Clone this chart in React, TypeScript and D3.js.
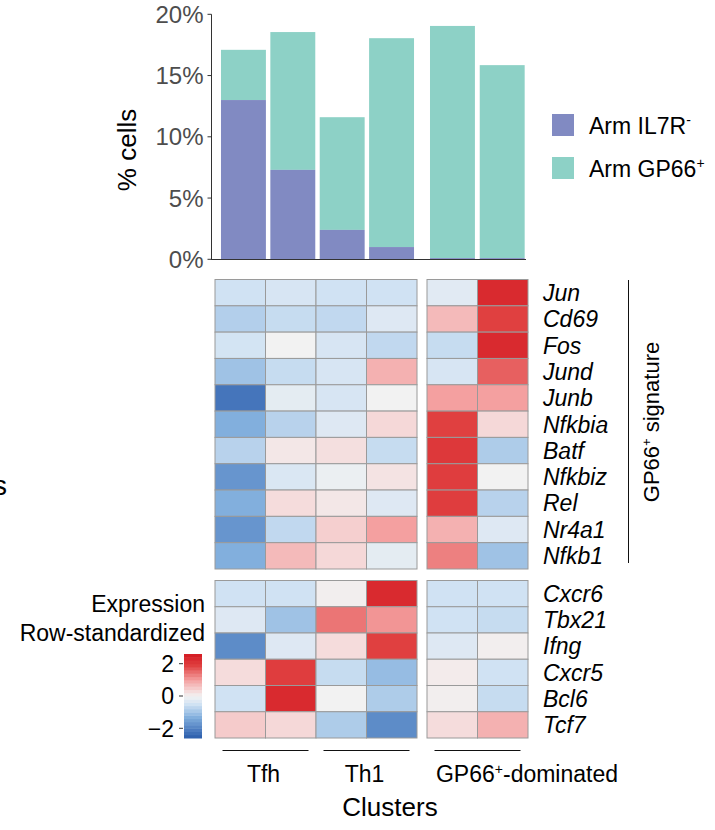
import React, { useEffect, useRef } from "react";
import * as d3 from "d3";

// clusters (columns), grouped
const clusters = ["c1", "c2", "c3", "c4", "c5", "c6"];
const groupA = ["c1", "c2", "c3", "c4"];
const groupB = ["c5", "c6"];
const clusterGroups = [
  { name: "Tfh", cols: ["c1", "c2"] },
  { name: "Th1", cols: ["c3", "c4"] },
  { name: "GP66+-dominated", cols: ["c5", "c6"] },
];

// % cells per cluster
const il7r = [13.0, 7.3, 2.4, 1.0, 0.1, 0.1];
const gp66 = [4.1, 11.25, 9.2, 17.05, 18.95, 15.75];
const yTicks = [0, 5, 10, 15, 20];

// heatmap genes
const sigGenes = ["Jun", "Cd69", "Fos", "Jund", "Junb", "Nfkbia", "Batf", "Nfkbiz", "Rel", "Nr4a1", "Nfkb1"];
const sigValues = [
  [-0.5, -0.4, -0.5, -0.5, -0.25, 2.3],
  [-0.8, -0.6, -0.65, -0.3, 0.7, 1.9],
  [-0.45, 0, -0.4, -0.65, -0.6, 2.3],
  [-1.0, -0.6, -0.4, 0.8, -0.4, 1.6],
  [-2.2, -0.2, -0.4, 0, 1.0, 1.0],
  [-1.3, -0.75, -0.3, 0.35, 1.9, 0.35],
  [-0.75, 0.15, 0.25, -0.6, 2.05, -0.85],
  [-1.7, -0.35, -0.1, 0.2, 1.95, 0],
  [-1.3, 0.3, 0.15, -0.3, 1.95, -0.75],
  [-1.7, -0.65, 0.45, 1.0, 0.8, -0.3],
  [-1.3, 0.7, 0.35, -0.2, 1.3, -1.0],
];
const markerGenes = ["Cxcr6", "Tbx21", "Ifng", "Cxcr5", "Bcl6", "Tcf7"];
const markerValues = [
  [-0.5, -0.5, 0.05, 2.3, -0.5, -0.5],
  [-0.3, -1.0, 1.4, 1.1, -0.5, -0.6],
  [-1.85, -0.3, 0.3, 1.9, -0.3, 0.05],
  [0.3, 1.95, -0.6, -1.1, 0.1, -0.5],
  [-0.5, 2.3, 0, -0.85, 0.05, -0.6],
  [0.5, 0.35, -0.85, -1.85, 0.3, 0.8],
];
const legendTicks = [-2, 0, 2];

// colour stops of the expression scale
const colorStops = [-2.6, -2.2, -1.3, -0.5, 0, 0.35, 1.0, 1.9, 2.6];
const colorRange = ["#2a5ca9", "#4575bb", "#82afdd", "#d0e2f3", "#f2f2f2", "#f5d8d8", "#f4a0a0", "#e04040", "#d31a22"];

const FONT = "'Liberation Sans', Arial, Helvetica, sans-serif";

export default function App() {
  const svgRef = useRef<SVGSVGElement>(null);

  useEffect(() => {
    const svg = d3.select(svgRef.current);
    svg.selectAll("*").remove();

    const color = d3.scaleLinear<string>().domain(colorStops).range(colorRange).clamp(true);

    // column positions for the heatmap
    const hxA = d3.scaleBand().domain(groupA).range([215, 417]);
    const hxB = d3.scaleBand().domain(groupB).range([427, 528]);
    const hx = (c: string) => (groupA.includes(c) ? hxA(c)! : hxB(c)!);
    const cw = hxA.bandwidth();

    // bar positions
    const bxA = d3.scaleBand().domain(groupA).range([219, 416]).paddingInner(0.09).paddingOuter(0.04);
    const bxB = d3.scaleBand().domain(groupB).range([428, 527]).paddingInner(0.09).paddingOuter(0.04);
    const bx = (c: string) => (groupA.includes(c) ? bxA(c)! : bxB(c)!);
    const bw = bxA.bandwidth();

    const y = d3.scaleLinear().domain([0, 20]).range([259.3, 14.3]);

    // ---- bars
    const stacked = clusters.map((c, i) => ({ c, a: il7r[i], b: gp66[i] }));
    const bars = svg.append("g");
    bars
      .selectAll(".gp")
      .data(stacked)
      .join("rect")
      .attr("x", (d) => bx(d.c))
      .attr("width", bw)
      .attr("y", (d) => y(d.a + d.b))
      .attr("height", (d) => y(d.a) - y(d.a + d.b))
      .attr("fill", "#8dd1c6");
    bars
      .selectAll(".il")
      .data(stacked)
      .join("rect")
      .attr("x", (d) => bx(d.c))
      .attr("width", bw)
      .attr("y", (d) => y(d.a))
      .attr("height", (d) => y(0) - y(d.a))
      .attr("fill", "#818ac2");

    // y axis
    const yAxis = svg.append("g").attr("transform", "translate(211.5,0)");
    yAxis.append("line").attr("y1", y(20)).attr("y2", y(0)).attr("stroke", "#333");
    yTicks.forEach((t) => {
      yAxis.append("line").attr("x1", -4).attr("x2", 0).attr("y1", y(t)).attr("y2", y(t)).attr("stroke", "#333");
      yAxis
        .append("text")
        .attr("x", -8)
        .attr("y", y(t))
        .attr("dy", "0.36em")
        .attr("text-anchor", "end")
        .attr("fill", "#4d4d4d")
        .style("font-size", "24px")
        .text(t + "%");
    });
    svg
      .append("line")
      .attr("x1", 211)
      .attr("x2", 526)
      .attr("y1", 259.5)
      .attr("y2", 259.5)
      .attr("stroke", "#333");
    svg
      .append("text")
      .attr("transform", `translate(136,150) rotate(-90)`)
      .attr("text-anchor", "middle")
      .style("font-size", "26px")
      .text("% cells");

    // legend
    const legendItems = [
      { label: "Arm IL7R", sup: "-", fill: "#818ac2", y: 114 },
      { label: "Arm GP66", sup: "+", fill: "#8dd1c6", y: 157 },
    ];
    legendItems.forEach((l) => {
      svg.append("rect").attr("x", 552).attr("y", l.y).attr("width", 22).attr("height", 22).attr("fill", l.fill);
      const t = svg.append("text").attr("x", 589).attr("y", l.y + 20).style("font-size", "23px").text(l.label);
      t.append("tspan").attr("dy", -9).style("font-size", "14px").text(l.sup);
    });

    // ---- heatmaps
    const drawHeat = (genes: string[], values: number[][], top: number, bottom: number) => {
      const ry = d3.scaleBand().domain(genes).range([top, bottom]);
      const g = svg.append("g");
      const cells = genes.flatMap((gene, r) => clusters.map((c, j) => ({ gene, c, v: values[r][j] })));
      g.selectAll("rect")
        .data(cells)
        .join("rect")
        .attr("x", (d) => hx(d.c))
        .attr("y", (d) => ry(d.gene)!)
        .attr("width", cw)
        .attr("height", ry.bandwidth())
        .attr("fill", (d) => color(d.v))
        .attr("stroke", "#9a9a9a")
        .attr("stroke-width", 1);
      g.selectAll("text")
        .data(genes)
        .join("text")
        .attr("x", 543)
        .attr("y", (d) => ry(d)! + ry.bandwidth() / 2)
        .attr("dy", "0.36em")
        .style("font-size", "23px")
        .style("font-style", "italic")
        .text((d) => d);
    };
    drawHeat(sigGenes, sigValues, 279.5, 569);
    drawHeat(markerGenes, markerValues, 580.5, 738);

    // signature bracket
    svg.append("line").attr("x1", 628.5).attr("x2", 628.5).attr("y1", 280).attr("y2", 563).attr("stroke", "#111");
    const sig = svg
      .append("text")
      .attr("transform", "translate(659,422) rotate(-90)")
      .attr("text-anchor", "middle")
      .style("font-size", "22px")
      .text("GP66");
    sig.append("tspan").attr("dy", -8).style("font-size", "13px").text("+");
    sig.append("tspan").attr("dy", 8).text(" signature");

    // row title, only its last letter shows at the left edge
    svg
      .append("text")
      .attr("x", 7)
      .attr("y", 495)
      .attr("text-anchor", "end")
      .style("font-size", "28px")
      .text("Genes");

    // color legend
    svg
      .append("text")
      .attr("x", 205)
      .attr("y", 612)
      .attr("text-anchor", "end")
      .style("font-size", "23px")
      .text("Expression");
    svg
      .append("text")
      .attr("x", 205)
      .attr("y", 641)
      .attr("text-anchor", "end")
      .style("font-size", "23px")
      .text("Row-standardized");
    const ly = d3.scaleLinear().domain([-2.6, 2.6]).range([738, 654]);
    const steps = d3.range(-2.6, 2.6, 0.2);
    svg
      .append("g")
      .selectAll("rect")
      .data(steps)
      .join("rect")
      .attr("x", 184)
      .attr("width", 18)
      .attr("y", (d) => ly(d + 0.2))
      .attr("height", (d) => ly(d) - ly(d + 0.2) + 0.5)
      .attr("fill", (d) => color(d + 0.1));
    legendTicks.forEach((t) => {
      svg.append("line").attr("x1", 179).attr("x2", 183).attr("y1", ly(t)).attr("y2", ly(t)).attr("stroke", "#333");
      svg
        .append("text")
        .attr("x", 174)
        .attr("y", ly(t))
        .attr("dy", "0.36em")
        .attr("text-anchor", "end")
        .style("font-size", "23px")
        .text(t < 0 ? "\u2212" + Math.abs(t) : String(t));
    });

    // cluster groups
    clusterGroups.forEach((grp) => {
      const x0 = hx(grp.cols[0]);
      const x1 = hx(grp.cols[grp.cols.length - 1]) + cw;
      const cx = (x0 + x1) / 2;
      svg.append("line").attr("x1", cx - 43).attr("x2", cx + 43).attr("y1", 750.5).attr("y2", 750.5).attr("stroke", "#111");
      if (grp.name === "GP66+-dominated") {
        const t = svg.append("text").attr("x", 527).attr("y", 782).attr("text-anchor", "middle").style("font-size", "23px").text("GP66");
        t.append("tspan").attr("dy", -8).style("font-size", "14px").text("+");
        t.append("tspan").attr("dy", 8).text("-dominated");
      } else {
        svg.append("text").attr("x", cx - 2).attr("y", 782).attr("text-anchor", "middle").style("font-size", "23px").text(grp.name);
      }
    });
    svg
      .append("text")
      .attr("x", 390)
      .attr("y", 816)
      .attr("text-anchor", "middle")
      .style("font-size", "26px")
      .text("Clusters");
  }, []);

  return (
    <svg
      ref={svgRef}
      width={715}
      height={830}
      style={{ position: "absolute", left: 0, top: 0, fontFamily: FONT, background: "#fff" }}
    />
  );
}
